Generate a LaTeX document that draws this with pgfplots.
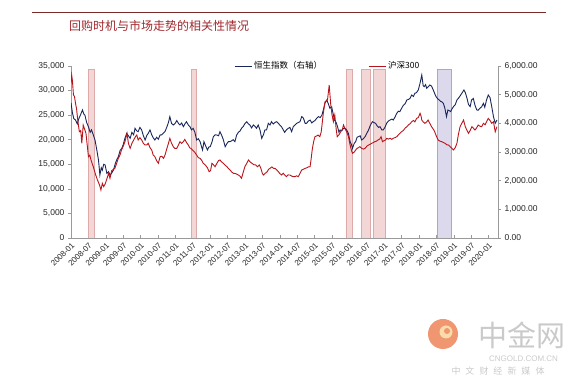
\documentclass[border=0pt]{standalone}
\usepackage{fontspec}
\setmainfont{Liberation Sans}
\newfontfamily\cjk{Noto Sans CJK SC}
\usepackage{pgfplots}
\pgfplotsset{compat=1.18}
\usepackage{pgfplotstable}

\definecolor{hsi}{HTML}{18265A}
\definecolor{csi}{HTML}{B8141C}
\definecolor{pinkf}{HTML}{F3D6D6}
\definecolor{pinkd}{HTML}{DDA9A9}
\definecolor{purf}{HTML}{DCD9EC}
\definecolor{purd}{HTML}{ABA5CF}
\definecolor{titc}{HTML}{A0282C}
\definecolor{axc}{HTML}{9A9A9A}
\definecolor{wmk}{HTML}{CACACA}

\pgfplotstableread{
x y
2008.00 27500
2008.04 25500
2008.08 24300
2008.13 24000
2008.18 23200
2008.22 24200
2008.27 25000
2008.33 26050
2008.37 25200
2008.40 25000
2008.45 23500
2008.50 22650
2008.55 21500
2008.59 22000
2008.64 21000
2008.69 19940
2008.74 18000
2008.79 15870
2008.83 12820
2008.87 14300
2008.90 13800
2008.94 15000
2008.98 14860
2009.03 13160
2009.08 13500
2009.12 12820
2009.17 13200
2009.22 13840
2009.28 15300
2009.32 16000
2009.36 16550
2009.41 17800
2009.46 18250
2009.50 19000
2009.55 20300
2009.60 21300
2009.65 20800
2009.70 20280
2009.75 21500
2009.80 21000
2009.84 22320
2009.89 21800
2009.93 21640
2009.98 22500
2010.03 22000
2010.08 20800
2010.13 19940
2010.18 20900
2010.22 21300
2010.27 21980
2010.32 21000
2010.37 20300
2010.41 19940
2010.46 20500
2010.51 20100
2010.56 20960
2010.61 21000
2010.65 21300
2010.70 21640
2010.75 22500
2010.80 23500
2010.84 24690
2010.89 23300
2010.94 23000
2010.99 23300
2011.04 23900
2011.09 23300
2011.13 23000
2011.18 23400
2011.23 22650
2011.28 23300
2011.32 23670
2011.37 23000
2011.42 22650
2011.46 22000
2011.51 22320
2011.56 21500
2011.61 19940
2011.66 20200
2011.71 19600
2011.75 18600
2011.78 17910
2011.82 19600
2011.86 18900
2011.92 17910
2011.96 18500
2012.00 18580
2012.05 19500
2012.09 20620
2012.14 21000
2012.19 20960
2012.24 20800
2012.28 21640
2012.33 20900
2012.38 19940
2012.43 18580
2012.48 19200
2012.52 19600
2012.57 19600
2012.62 19800
2012.66 20000
2012.71 19600
2012.76 20960
2012.81 21500
2012.86 21800
2012.90 22320
2012.95 22700
2013.00 23300
2013.05 23670
2013.10 23200
2013.14 23000
2013.19 22400
2013.24 23000
2013.29 22700
2013.33 22320
2013.38 23000
2013.43 22000
2013.48 20280
2013.53 21000
2013.57 21980
2013.62 22000
2013.67 23340
2013.72 23000
2013.76 23670
2013.81 23200
2013.86 23500
2013.91 23670
2013.96 23300
2014.00 23000
2014.05 22650
2014.10 21980
2014.14 21500
2014.19 22000
2014.24 22320
2014.29 22500
2014.34 21640
2014.39 22700
2014.44 23000
2014.48 23300
2014.53 23500
2014.58 23670
2014.63 24700
2014.68 24360
2014.73 23300
2014.77 23340
2014.82 23800
2014.87 24000
2014.92 23400
2014.96 23670
2015.01 23900
2015.06 24360
2015.11 24700
2015.16 24500
2015.21 25000
2015.25 26050
2015.30 27500
2015.35 28080
2015.40 27200
2015.44 26390
2015.49 26700
2015.53 25370
2015.57 24010
2015.62 23500
2015.66 22650
2015.70 21500
2015.73 21980
2015.78 21800
2015.83 22320
2015.88 22300
2015.92 21980
2015.97 21300
2016.02 19600
2016.06 19000
2016.09 18250
2016.14 19300
2016.18 19600
2016.22 20500
2016.26 20620
2016.31 20800
2016.35 19940
2016.40 20200
2016.45 20620
2016.50 21300
2016.55 21980
2016.60 22900
2016.66 23670
2016.70 23500
2016.75 23340
2016.80 22800
2016.84 22500
2016.88 22650
2016.93 22000
2016.97 21980
2017.02 22500
2017.07 23340
2017.12 23800
2017.17 24010
2017.22 24200
2017.26 24000
2017.31 24600
2017.36 25370
2017.41 25800
2017.45 25700
2017.50 26390
2017.55 27000
2017.60 27300
2017.65 28080
2017.70 28200
2017.74 28400
2017.79 29100
2017.84 28800
2017.88 29440
2017.93 29600
2017.98 30120
2018.03 31500
2018.08 33170
2018.12 31000
2018.15 30800
2018.19 31200
2018.22 30460
2018.27 30800
2018.31 31140
2018.36 30900
2018.41 30120
2018.45 29400
2018.49 28760
2018.54 28300
2018.58 28080
2018.62 27800
2018.66 27700
2018.70 27400
2018.74 26500
2018.79 24690
2018.83 26050
2018.87 25900
2018.91 25710
2018.95 26300
2018.99 26730
2019.04 27100
2019.09 28080
2019.14 28500
2019.18 28900
2019.23 29440
2019.29 30120
2019.33 29600
2019.38 28420
2019.42 27200
2019.47 26730
2019.51 28080
2019.56 28400
2019.61 27000
2019.66 26050
2019.70 26000
2019.75 26390
2019.80 26700
2019.85 27400
2019.89 26600
2019.94 28080
2019.99 29100
2020.04 28600
2020.09 26730
2020.14 24690
2020.19 23340
2020.24 24010
}\hsitable

\pgfplotstableread{
x y
2008.00 5400
2008.02 5685
2008.04 5500
2008.07 5000
2008.10 4930
2008.13 4700
2008.16 4500
2008.20 4056
2008.24 3707
2008.28 3750
2008.31 3303
2008.33 3600
2008.35 3941
2008.39 3800
2008.43 3651
2008.47 3200
2008.50 2836
2008.54 2890
2008.58 2700
2008.64 2487
2008.71 2197
2008.76 2023
2008.82 1850
2008.86 1674
2008.90 1907
2008.94 1790
2008.98 1880
2009.02 2023
2009.08 2256
2009.12 2081
2009.17 2350
2009.26 2430
2009.31 2600
2009.36 2779
2009.41 2900
2009.45 3069
2009.50 3200
2009.55 3360
2009.61 3651
2009.65 3300
2009.70 3128
2009.75 3300
2009.80 3418
2009.86 3550
2009.89 3593
2009.93 3418
2009.98 3500
2010.03 3418
2010.08 3300
2010.13 3244
2010.18 3250
2010.22 3303
2010.27 3150
2010.32 3069
2010.36 2900
2010.41 2836
2010.46 2700
2010.51 2605
2010.56 2836
2010.61 2850
2010.66 2780
2010.70 2890
2010.75 3100
2010.80 3300
2010.84 3477
2010.89 3300
2010.94 3185
2010.98 3128
2011.04 3128
2011.09 3250
2011.13 3360
2011.18 3300
2011.23 3360
2011.27 3440
2011.32 3330
2011.37 3244
2011.41 3150
2011.44 3128
2011.49 3069
2011.55 3000
2011.61 2895
2011.66 2800
2011.71 2779
2011.76 2700
2011.80 2605
2011.86 2547
2011.92 2450
2011.97 2313
2012.01 2350
2012.05 2605
2012.09 2560
2012.14 2487
2012.19 2600
2012.24 2700
2012.28 2721
2012.33 2650
2012.38 2605
2012.43 2540
2012.48 2487
2012.52 2430
2012.57 2372
2012.62 2300
2012.67 2256
2012.72 2250
2012.76 2230
2012.81 2197
2012.86 2150
2012.90 2081
2012.95 2300
2013.00 2500
2013.05 2600
2013.10 2721
2013.15 2650
2013.20 2605
2013.25 2560
2013.31 2547
2013.36 2487
2013.41 2547
2013.45 2450
2013.50 2250
2013.53 2197
2013.58 2256
2013.63 2300
2013.68 2400
2013.72 2430
2013.77 2480
2013.82 2430
2013.86 2430
2013.91 2380
2013.96 2313
2014.00 2250
2014.05 2197
2014.10 2256
2014.14 2200
2014.19 2139
2014.24 2200
2014.29 2197
2014.34 2160
2014.39 2139
2014.44 2139
2014.48 2170
2014.53 2139
2014.58 2250
2014.63 2372
2014.68 2400
2014.73 2430
2014.78 2450
2014.82 2480
2014.87 2487
2014.90 2750
2014.93 3069
2014.97 3350
2015.01 3534
2015.06 3560
2015.10 3593
2015.15 3534
2015.19 3700
2015.25 4349
2015.30 4754
2015.37 4813
2015.42 5337
2015.46 4698
2015.50 4300
2015.54 4056
2015.58 4290
2015.62 3800
2015.65 3534
2015.70 3600
2015.75 3707
2015.80 3800
2015.83 3941
2015.88 3800
2015.92 3707
2015.97 3550
2016.02 3244
2016.06 3050
2016.09 2953
2016.14 3000
2016.18 3069
2016.22 3128
2016.26 3150
2016.30 3185
2016.35 3128
2016.40 3100
2016.45 3128
2016.50 3200
2016.55 3244
2016.60 3270
2016.64 3303
2016.69 3330
2016.73 3360
2016.78 3380
2016.82 3418
2016.87 3450
2016.91 3534
2016.95 3360
2017.00 3400
2017.04 3418
2017.07 3477
2017.12 3450
2017.17 3480
2017.22 3440
2017.26 3480
2017.31 3500
2017.36 3534
2017.41 3600
2017.45 3650
2017.50 3707
2017.55 3750
2017.60 3830
2017.65 3883
2017.70 3950
2017.74 3980
2017.79 4056
2017.84 4100
2017.88 4050
2017.93 4173
2017.98 4200
2018.03 4349
2018.06 4250
2018.08 4114
2018.12 4050
2018.17 4000
2018.22 4050
2018.26 4114
2018.31 4000
2018.36 3883
2018.41 3800
2018.45 3707
2018.50 3550
2018.55 3418
2018.60 3380
2018.65 3360
2018.70 3330
2018.75 3303
2018.80 3250
2018.85 3244
2018.90 3180
2018.94 3128
2018.99 3069
2019.04 3150
2019.09 3303
2019.13 3600
2019.18 3883
2019.23 4000
2019.28 4114
2019.33 3883
2019.38 3750
2019.42 3651
2019.47 3750
2019.52 3883
2019.57 3820
2019.61 3767
2019.66 3850
2019.70 3941
2019.75 3900
2019.80 3883
2019.85 4000
2019.90 3950
2019.94 4050
2019.99 4173
2020.04 4100
2020.09 4000
2020.14 4056
2020.19 3707
2020.24 3883
}\csitable

\begin{document}
\begin{tikzpicture}[x=1pt,y=1pt]
\path[use as bounding box] (0,0) rectangle (587,390);
% header
\draw[color={rgb,255:red,123;green,42;blue,42}, line width=0.8pt] (32,378) -- (546,378);
\node[anchor=west, inner sep=0pt, text=titc, font=\cjk\fontsize{12}{14}\selectfont] at (69,364) {回购时机与市场走势的相关性情况};

\begin{axis}[
  at={(71pt,152pt)}, anchor=south west, scale only axis,
  width=427pt, height=172pt,
  xmin=2008, xmax=2020.27, ymin=0, ymax=35000,
  axis x line*=bottom, axis y line*=left,
  axis line style={axc, line width=0.6pt},
  tick style={axc, line width=0.5pt}, major tick length=3pt,
  tick align=outside,
  xtick style={yshift=3pt},
  scaled y ticks=false,
  ytick={0,5000,10000,15000,20000,25000,30000,35000},
  /pgf/number format/assume math mode=true,
  /pgf/number format/1000 sep={,},
  yticklabel style={font=\fontsize{8.5}{10}\selectfont, text=black!85},
  xtick={2008,2008.5,2009,2009.5,2010,2010.5,2011,2011.5,2012,2012.5,2013,2013.5,2014,2014.5,2015,2015.5,2016,2016.5,2017,2017.5,2018,2018.5,2019,2019.5,2020},
  xticklabels={2008-01,2008-07,2009-01,2009-07,2010-01,2010-07,2011-01,2011-07,2012-01,2012-07,2013-01,2013-07,2014-01,2014-07,2015-01,2015-07,2016-01,2016-07,2017-01,2017-07,2018-01,2018-07,2019-01,2019-07,2020-01},
  x tick label style={rotate=45, anchor=north east, font=\fontsize{8}{9}\selectfont, text=black!85, inner sep=0.5pt},
  legend style={at={(0.382,1.0)}, anchor=west, draw=none, fill=none, inner sep=0pt,
    font=\cjk\fontsize{8.5}{10}\selectfont, legend columns=2,
    /tikz/every even column/.append style={column sep=44pt}},
  legend image code/.code={\draw[#1] (0pt,0pt) -- (17pt,0pt);},
  legend cell align=left,
]
\addplot[draw=pinkd, fill=pinkf, line width=0.4pt, forget plot] coordinates {(2008.50,34400) (2008.66,34400)} \closedcycle;
\addplot[draw=pinkd, fill=pinkf, line width=0.4pt, forget plot] coordinates {(2011.44,34400) (2011.60,34400)} \closedcycle;
\addplot[draw=pinkd, fill=pinkf, line width=0.4pt, forget plot] coordinates {(2015.90,34400) (2016.08,34400)} \closedcycle;
\addplot[draw=pinkd, fill=pinkf, line width=0.4pt, forget plot] coordinates {(2016.34,34400) (2016.60,34400)} \closedcycle;
\addplot[draw=pinkd, fill=pinkf, line width=0.4pt, forget plot] coordinates {(2016.69,34400) (2017.04,34400)} \closedcycle;
\addplot[draw=purd, fill=purf, line width=0.4pt, forget plot] coordinates {(2018.51,34400) (2018.93,34400)} \closedcycle;
\addplot[hsi, line width=0.9pt] table[x=x,y=y] {\hsitable};
\addlegendentry{恒生指数（右轴）}
\addlegendimage{csi, line width=0.9pt}
\addlegendentry{沪深300}
\end{axis}

\begin{axis}[
  at={(71pt,152pt)}, anchor=south west, scale only axis,
  width=427pt, height=172pt,
  xmin=2008, xmax=2020.27, ymin=0, ymax=6000,
  axis x line=none, axis y line*=right,
  axis line style={axc, line width=0.6pt},
  tick style={axc, line width=0.5pt}, major tick length=3pt,
  tick align=outside,
  scaled y ticks=false,
  ytick={0,1000,2000,3000,4000,5000,6000},
  /pgf/number format/assume math mode=true,
  /pgf/number format/fixed,
  /pgf/number format/fixed zerofill,
  /pgf/number format/precision=2,
  /pgf/number format/1000 sep={,},
  yticklabel style={font=\fontsize{8.5}{10}\selectfont, text=black!85},
]
\addplot[csi, line width=0.9pt] table[x=x,y=y] {\csitable};
\end{axis}

% watermark
\fill[color={rgb,255:red,240;green,150;blue,112}] (443,56) circle (15);
\fill[color={rgb,255:red,250;green,220;blue,170}] (446,58) circle (6.5);
\fill[color={rgb,255:red,240;green,150;blue,112}] (447,59) circle (3);
\node[text=wmk, font=\cjk\fontsize{29}{30}\selectfont, inner sep=0pt] at (521.5,55) {中金网};
\node[text=wmk, font=\fontsize{8}{9}\selectfont, inner sep=0pt] at (523.5,31) {CNGOLD.COM.CN};
\node[text=wmk, font=\cjk\fontsize{9}{10}\selectfont, inner sep=0pt] at (498,19) {中\hspace{5pt}文\hspace{5pt}财\hspace{5pt}经\hspace{5pt}新\hspace{5pt}媒\hspace{5pt}体};
\end{tikzpicture}
\end{document}
